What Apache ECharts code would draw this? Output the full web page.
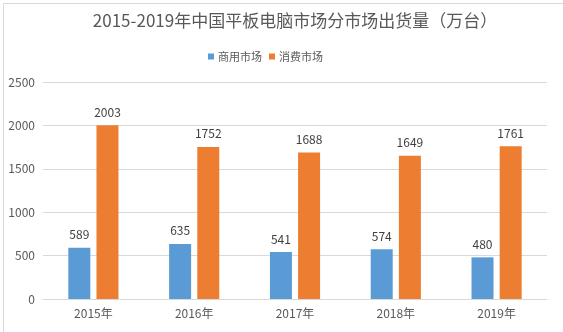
<!DOCTYPE html>
<html><head><meta charset="utf-8">
<script src="https://cdn.jsdelivr.net/npm/echarts@6/dist/echarts.min.js"></script>
<style>html,body{margin:0;padding:0;background:#fff}#c{width:563px;height:332px}</style>
</head><body><div id="c"></div>
<script>
var categories = ['2015年','2016年','2017年','2018年','2019年'];
var commercial = [589, 635, 541, 574, 480];
var consumer = [2003, 1752, 1688, 1649, 1761];
var seriesNames = ['商用市场','消费市场'];
var titleText = '2015-2019年中国平板电脑市场分市场出货量（万台）';
var font = '"Noto Sans CJK SC", "Microsoft YaHei", sans-serif';
var chart = echarts.init(document.getElementById('c'));
chart.setOption({
  animation: false,
  graphic: [{ type: 'rect', left: 1, top: 1, shape: { width: 560, height: 329 },
    style: { fill: 'none', stroke: '#D9D9D9', lineWidth: 1 }, silent: true, z: -1 }],
  title: { text: titleText, left: 290, top: 7, textAlign: 'center',
    textStyle: { fontFamily: font, fontSize: 17, fontWeight: 'normal', color: '#595959' } },
  legend: { data: seriesNames, left: 203, top: 46, itemWidth: 6, itemHeight: 6, itemGap: 7,
    textStyle: { fontFamily: font, fontSize: 11, color: '#595959', padding: [0, 0, 0, -1] }, icon: 'rect' },
  grid: { left: 43, right: 16, top: 82, bottom: 33 },
  xAxis: { type: 'category', data: categories,
    axisLine: { lineStyle: { color: '#D9D9D9' } }, axisTick: { show: false },
    axisLabel: { fontFamily: font, fontSize: 12, color: '#595959', margin: 8 } },
  yAxis: { type: 'value', min: 0, max: 2500, interval: 500,
    axisLine: { show: false }, axisTick: { show: false },
    splitLine: { lineStyle: { color: '#D9D9D9' } },
    axisLabel: { fontFamily: font, fontSize: 12, color: '#595959', margin: 8, formatter: function (v) { return String(v); } } },
  series: [
    { name: seriesNames[0], type: 'bar', data: commercial, barWidth: 22, barGap: '28%',
      itemStyle: { color: '#5B9BD5' },
      label: { show: true, position: 'top', distance: 7, fontFamily: font, fontSize: 12, color: '#404040' } },
    { name: seriesNames[1], type: 'bar', data: consumer, barWidth: 22,
      itemStyle: { color: '#ED7D31' },
      label: { show: true, position: 'top', distance: 7, fontFamily: font, fontSize: 12, color: '#404040' } }
  ]
});
</script></body></html>
